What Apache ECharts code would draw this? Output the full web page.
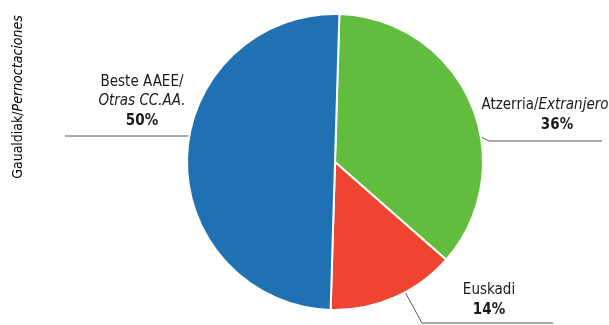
<!DOCTYPE html>
<html>
<head>
<meta charset="utf-8">
<script src="https://cdn.jsdelivr.net/npm/echarts@6/dist/echarts.min.js"></script>
<style>
  html, body { margin: 0; padding: 0; background: #fff; }
  #chart { width: 609px; height: 325px; }
</style>
</head>
<body>
<div id="chart"></div>
<script>
// datos
const categories = ['Atzerria/Extranjero', 'Euskadi', 'Beste AAEE/Otras CC.AA.'];
const values = [36, 14, 50];
const colors = ['#62bd3e', '#ee4431', '#2070b4'];
const labelTexts = [
  '{n|Atzerria/}{i|Extranjero}\n{br|36%}',
  '{n|Euskadi}\n{b|14%}',
  '{n|Beste AAEE/}\n{i|Otras CC.AA.}\n{b|50%}'
];
const axisTitle = '{n|Gaualdiak/}{i|Pernoctaciones}';

// posiciones de etiquetas y líneas
const labelPos = [
  { x: 545, y: 116, line: [[481, 137], [489, 141], [602, 141]] },
  { x: 489, y: 301, line: [[405, 292], [422, 323], [553, 323]] },
  { x: 142, y: 102, line: [[65, 136], [128, 136], [190, 136]] }
];

const font = '"Liberation Sans Narrow", "DejaVu Sans Condensed", "Roboto Condensed", sans-serif';
const rich = {
  n: { fontFamily: font, fontSize: 15, color: '#1a1a1a', lineHeight: 19 },
  i: { fontFamily: font, fontSize: 15, fontStyle: 'italic', color: '#1a1a1a', lineHeight: 19 },
  b: { fontFamily: font, fontSize: 15, fontWeight: 'bold', color: '#1a1a1a', lineHeight: 21 },
  br: { fontFamily: font, fontSize: 15, fontWeight: 'bold', color: '#1a1a1a', lineHeight: 21, padding: [0, 0, 0, 24] }
};

let data = categories.map((name, i) => ({
  name: name,
  value: values[i],
  itemStyle: { color: colors[i] },
  label: { formatter: labelTexts[i] }
}));

let myChart = echarts.init(document.getElementById('chart'));
myChart.setOption({
  animation: false,
  graphic: {
    elements: [
      {
        type: 'text',
        x: 18,
        y: 97,
        rotation: Math.PI / 2,
        style: {
          text: axisTitle,
          align: 'center',
          verticalAlign: 'middle',
          rich: {
            n: { fontFamily: font, fontSize: 14, color: '#1a1a1a' },
            i: { fontFamily: font, fontSize: 14, fontStyle: 'italic', color: '#1a1a1a' }
          }
        }
      }
    ]
  },
  series: [
    {
      type: 'pie',
      center: [335, 162],
      radius: 148,
      startAngle: 88.3,
      clockwise: true,
      itemStyle: { borderColor: '#fff', borderWidth: 2 },
      label: {
        show: true,
        position: 'outside',
        align: 'center',
        overflow: 'none',
        rich: rich
      },
      labelLine: {
        show: true,
        lineStyle: { color: '#555', width: 1 }
      },
      labelLayout: function (params) {
        let p = labelPos[params.dataIndex];
        return {
          x: p.x,
          y: p.y,
          align: 'center',
          verticalAlign: 'middle',
          labelLinePoints: p.line
        };
      },
      emphasis: { disabled: true },
      data: data
    }
  ]
});
</script>
</body>
</html>
